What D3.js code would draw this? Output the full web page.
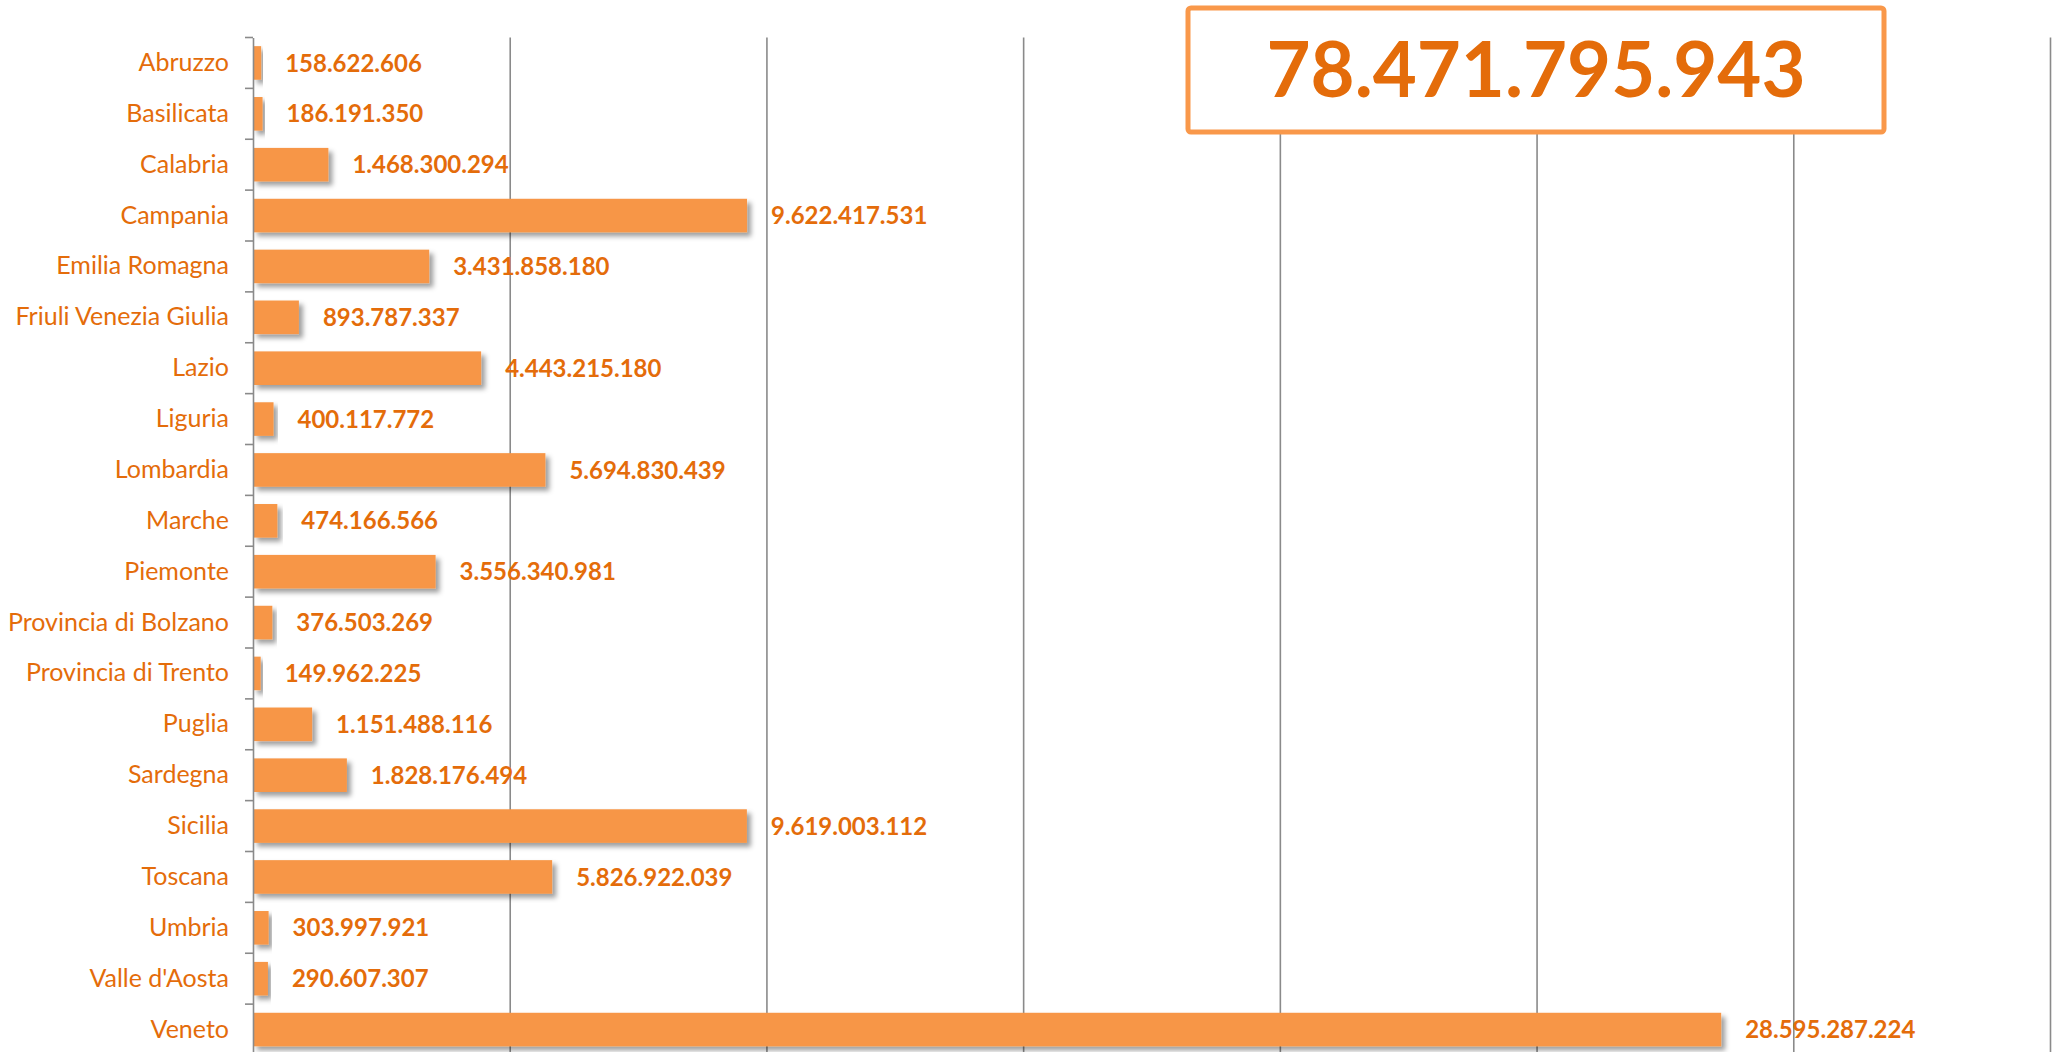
<!DOCTYPE html>
<html>
<head>
<meta charset="utf-8">
<script src="https://cdn.jsdelivr.net/npm/d3@7"></script>
<style>
  html, body { margin: 0; padding: 0; background: #fff; }
  svg { display: block; }
</style>
</head>
<body>
<svg id="chart" width="2054" height="1052"></svg>
<script>
const categories = ["Abruzzo","Basilicata","Calabria","Campania","Emilia Romagna","Friuli Venezia Giulia","Lazio","Liguria","Lombardia","Marche","Piemonte","Provincia di Bolzano","Provincia di Trento","Puglia","Sardegna","Sicilia","Toscana","Umbria","Valle d'Aosta","Veneto"];
const values = [158622606,186191350,1468300294,9622417531,3431858180,893787337,4443215180,400117772,5694830439,474166566,3556340981,376503269,149962225,1151488116,1828176494,9619003112,5826922039,303997921,290607307,28595287224];
const xTicks = [0,5e9,10e9,15e9,20e9,25e9,30e9,35e9];

(function () {
const plotLeft = 253, plotRight = 2050, plotTop = 37.5, plotBottom = 1055;
const barColor = "#F79646", textColor = "#E46C0A", gridColor = "#8a8a8a";

const it = d3.formatLocale({decimal: ",", thousands: ".", grouping: [3], currency: ["€",""]});
const fmt = it.format(",d");

const svg = d3.select("#chart");
const defs = svg.append("defs");
const f = defs.append("filter").attr("id","shadow").attr("x","-10%").attr("y","-30%").attr("width","130%").attr("height","180%");
f.append("feDropShadow").attr("dx",4).attr("dy",4).attr("stdDeviation",2.5).attr("flood-color","#000").attr("flood-opacity",0.38);

const x = d3.scaleLinear().domain([0, 35e9]).range([plotLeft, plotRight]);
const y = d3.scaleBand().domain(categories).range([plotTop, plotBottom]).paddingInner(0.34).paddingOuter(0.17);

// vertical gridlines
svg.append("g")
  .attr("transform", `translate(0,${plotBottom})`)
  .call(d3.axisBottom(x).tickValues(xTicks.slice(1)).tickSize(-(plotBottom - plotTop)).tickFormat(""))
  .call(g => g.select(".domain").remove())
  .call(g => g.selectAll(".tick line").attr("stroke", gridColor).attr("stroke-width", 1.6));

// bars
svg.append("g").selectAll("rect")
  .data(categories)
  .join("rect")
  .attr("x", x(0))
  .attr("y", d => y(d))
  .attr("width", (d,i) => x(values[i]) - x(0))
  .attr("height", y.bandwidth())
  .attr("fill", barColor)
  .attr("filter", "url(#shadow)");

// y axis
const yAxis = svg.append("g")
  .attr("transform", `translate(${plotLeft},0)`)
  .call(d3.axisLeft(y).tickSize(0).tickPadding(24))
  .call(g => g.select(".domain").attr("stroke", gridColor).attr("stroke-width", 1.6))
  .call(g => g.selectAll(".tick text")
    .attr("fill", textColor)
    .attr("font-family", "Lato, 'Open Sans', sans-serif")
    .attr("font-size", 25));

// boundary ticks
const boundaries = d3.range(categories.length + 1).map(i => y.range()[0] + i * y.step());
yAxis.selectAll("line.bt")
  .data(boundaries)
  .join("line")
  .attr("class","bt")
  .attr("x1", -8).attr("x2", 0)
  .attr("y1", d => d).attr("y2", d => d)
  .attr("stroke", gridColor).attr("stroke-width", 1.6);

// value labels
svg.append("g").selectAll("text")
  .data(categories)
  .join("text")
  .attr("x", (d,i) => x(values[i]) + 24)
  .attr("y", d => y(d) + y.bandwidth()/2)
  .attr("dy", "0.36em")
  .attr("fill", textColor)
  .attr("font-family", "Lato, 'Open Sans', sans-serif")
  .attr("font-weight", "bold")
  .attr("font-size", 24)
  .text((d,i) => fmt(values[i]));

// total box
const total = d3.sum(values);
const box = svg.append("g");
box.append("rect")
  .attr("x", 1188).attr("y", 8).attr("width", 696).attr("height", 124)
  .attr("rx", 3)
  .attr("fill", "#fff")
  .attr("stroke", "#F9984A").attr("stroke-width", 5);
box.append("text")
  .attr("x", 1188 + 348).attr("y", 70)
  .attr("dy", "0.36em")
  .attr("text-anchor", "middle")
  .attr("fill", textColor)
  .attr("font-family", "Lato, 'Open Sans', sans-serif")
  .attr("font-weight", "bold")
  .attr("font-size", 76)
  .text(fmt(total));
})();
</script>
</body>
</html>
